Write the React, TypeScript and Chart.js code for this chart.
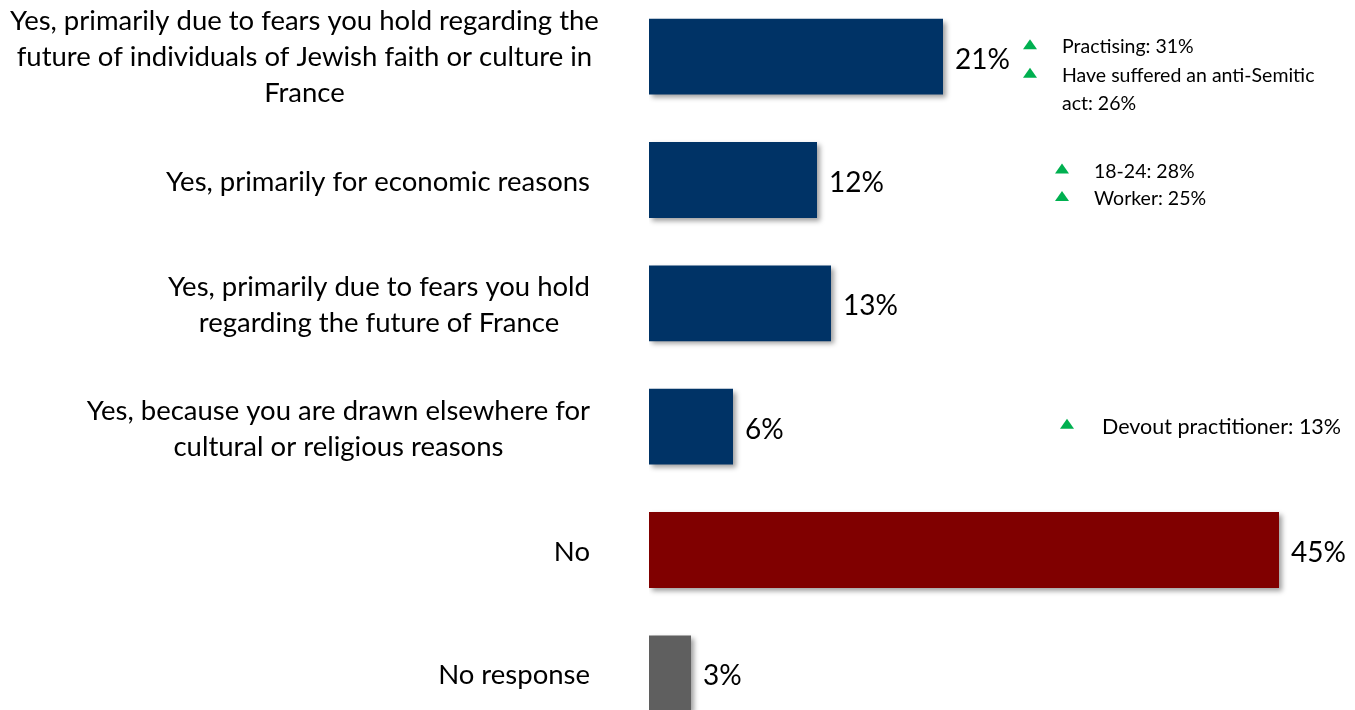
import { useEffect, useRef } from "react";
import { Chart, registerables } from "chart.js";
Chart.register(...registerables);

const categories: string[][] = [
  ["Yes, primarily due to fears you hold regarding the", "future of individuals of Jewish faith or culture in", "France"],
  ["Yes, primarily for economic reasons"],
  ["Yes, primarily due to fears you hold", "regarding the future of France"],
  ["Yes, because you are drawn elsewhere for", "cultural or religious reasons"],
  ["No"],
  ["No response"],
];
const values: number[] = [21, 12, 13, 6, 45, 3];
const valueLabels: string[] = ["21%", "12%", "13%", "6%", "45%", "3%"];
const barColors: string[] = ["#003366", "#003366", "#003366", "#003366", "#800000", "#5f5f5f"];
const subgroupNotes: string[][][] = [
  [["Practising: 31%"], ["Have suffered an anti-Semitic", "act: 26%"]],
  [["18-24: 28%"], ["Worker: 25%"]],
  [],
  [["Devout practitioner: 13%"]],
  [],
  [],
];

// style-only layout for the annotation blocks
const noteStyle = [
  { triX: 1030, textX: 1062, dy: -10.5, lh: 28.5, size: 19.5 },
  { triX: 1062, textX: 1094, dy: -9.5, lh: 27.5, size: 19.5 },
  { triX: 0, textX: 0, dy: 0, lh: 28, size: 19.5 },
  { triX: 1067, textX: 1102, dy: -1, lh: 28, size: 21.5 },
  { triX: 0, textX: 0, dy: 0, lh: 28, size: 19.5 },
  { triX: 0, textX: 0, dy: 0, lh: 28, size: 19.5 },
];

const FONT = "Lato, 'Noto Sans', sans-serif";

export default function App() {
  const ref = useRef<HTMLCanvasElement | null>(null);
  useEffect(() => {
    const canvas = ref.current!;
    const shadowPlugin = {
      id: "barShadow",
      beforeDatasetsDraw(chart: any) {
        const ctx = chart.ctx;
        ctx.save();
        ctx.shadowColor = "rgba(0,0,0,0.38)";
        ctx.shadowBlur = 5;
        ctx.shadowOffsetX = 3;
        ctx.shadowOffsetY = 3;
      },
      afterDatasetsDraw(chart: any) {
        chart.ctx.restore();
      },
    };
    const textPlugin = {
      id: "texts",
      afterDraw(chart: any) {
        const ctx = chart.ctx;
        const meta = chart.getDatasetMeta(0);
        const yScale = chart.scales.y;
        ctx.save();
        // category labels
        ctx.fillStyle = "#000";
        ctx.font = `27.5px ${FONT}`;
        ctx.textBaseline = "middle";
        ctx.textAlign = "center";
        const rightEdge = 590;
        const minLeft = 10;
        const lineH = 36;
        categories.forEach((lines, i) => {
          const cy = yScale.getPixelForValue(i) + (lines.length === 3 ? 0 : 2);
          const w = Math.max(...lines.map((l) => ctx.measureText(l).width));
          const cx = Math.max(rightEdge - w / 2, minLeft + w / 2);
          lines.forEach((l, j) => {
            const y = cy + (j - (lines.length - 1) / 2) * lineH;
            ctx.fillText(l, cx, y);
          });
        });
        // value labels
        ctx.font = `28px ${FONT}`;
        ctx.textAlign = "left";
        meta.data.forEach((bar: any, i: number) => {
          ctx.fillText(valueLabels[i], bar.x + 12, bar.y + 3);
        });
        // subgroup notes
        subgroupNotes.forEach((block, i) => {
          if (!block.length) return;
          const st = noteStyle[i];
          const cy = yScale.getPixelForValue(i);
          let y = cy + st.dy;
          ctx.font = `${st.size}px ${FONT}`;
          block.forEach((lines) => {
            ctx.fillStyle = "#00b050";
            ctx.beginPath();
            ctx.moveTo(st.triX, y - 7);
            ctx.lineTo(st.triX + 7, y + 3);
            ctx.lineTo(st.triX - 7, y + 3);
            ctx.closePath();
            ctx.fill();
            ctx.fillStyle = "#000";
            lines.forEach((l) => {
              ctx.fillText(l, st.textX, y + 1);
              y += st.lh;
            });
          });
        });
        ctx.restore();
      },
    };
    const chart = new Chart(canvas, {
      type: "bar",
      data: {
        labels: categories.map((c) => c.join(" ")),
        datasets: [
          {
            data: values,
            backgroundColor: barColors,
            borderWidth: 0,
            barPercentage: 0.615,
            categoryPercentage: 1,
          },
        ],
      },
      options: {
        indexAxis: "y",
        responsive: false,
        animation: false,
        layout: { padding: { left: 649, right: 6, top: 0, bottom: 0 } },
        scales: {
          x: { display: false, min: 0, max: 50 },
          y: { display: false },
        },
        plugins: {
          legend: { display: false },
          tooltip: { enabled: false },
        },
      },
      plugins: [shadowPlugin, textPlugin],
    });
    return () => chart.destroy();
  }, []);
  return (
    <div
      style={{
        position: "absolute",
        left: 0,
        top: 0,
        width: 1355,
        height: 710,
        overflow: "hidden",
        background: "#fff",
      }}
    >
      <canvas ref={ref} width={1355} height={740} style={{ display: "block", marginTop: -5 }} />
    </div>
  );
}
